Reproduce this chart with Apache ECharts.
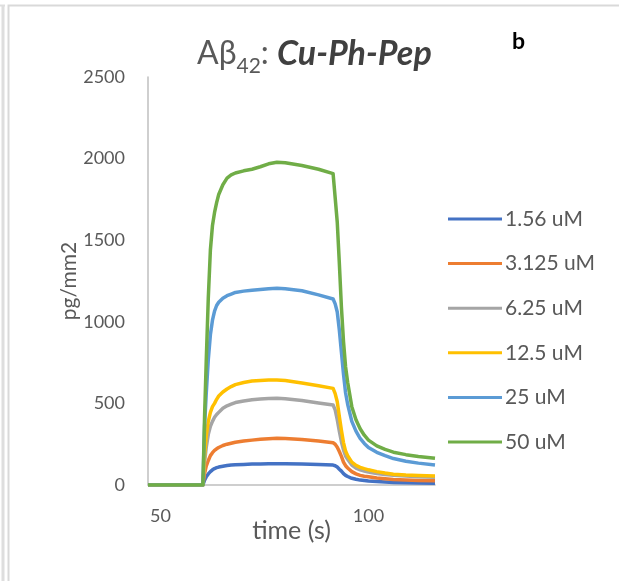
<!DOCTYPE html>
<html lang="en">

<head>
    <meta charset="UTF-8">
    <title>Aβ42: Cu-Ph-Pep</title>
    <script src="https://cdn.jsdelivr.net/npm/echarts@6/dist/echarts.min.js"></script>
    <style>
        html, body { margin: 0; padding: 0; background: #fff; }
        #chart { width: 619px; height: 581px; }
    </style>
</head>

<body>
    <div id="chart"></div>

    <script>
        // 时间点 (s)
        const times = [47, 60.2, 60.6, 61, 61.5, 62, 62.5, 63, 63.5, 64, 65, 66, 67, 68, 70, 72, 74, 76, 78, 80, 84, 88, 91.5,
            92, 92.5, 93, 93.5, 94, 94.5, 95, 96, 97, 98, 99, 100, 102, 104, 106, 109, 112, 116];

        const seriesNames = ['1.56 uM', '3.125 uM', '6.25 uM', '12.5 uM', '25 uM', '50 uM'];
        const seriesColors = ['#4472C4', '#ED7D31', '#A5A5A5', '#FFC000', '#5B9BD5', '#70AD47'];

        // pg/mm2
        const c156 = [0, 0, 30, 50, 68, 82, 93, 101, 106, 110, 115, 119, 122, 124, 126, 128, 129, 130, 130, 130, 128, 125, 122,
            118, 110, 97, 85, 70, 59, 52, 41, 35, 30, 27, 24, 21, 18, 16, 14, 12, 10];
        const c3125 = [0, 0, 70, 115, 150, 180, 198, 212, 222, 230, 242, 250, 256, 262, 269, 275, 280, 284, 286, 285, 279, 270, 259,
            250, 232, 205, 175, 140, 118, 104, 82, 68, 59, 54, 50, 43, 38, 34, 31, 28, 26];
        const c625 = [0, 0, 140, 230, 310, 360, 390, 415, 432, 445, 470, 485, 495, 505, 515, 522, 527, 530, 531, 529, 518, 503, 490,
            460, 400, 330, 265, 215, 178, 158, 122, 104, 93, 86, 80, 70, 65, 60, 55, 51, 47];
        const c125 = [0, 0, 180, 300, 390, 445, 480, 500, 525, 545, 570, 588, 603, 615, 628, 637, 641, 643, 643, 640, 625, 608, 592,
            560, 510, 420, 335, 260, 208, 180, 140, 120, 108, 100, 93, 82, 73, 66, 61, 58, 55];
        const c25 = [0, 0, 360, 560, 770, 920, 1010, 1065, 1100, 1120, 1145, 1160, 1170, 1180, 1188, 1194, 1198, 1203, 1205, 1203, 1190, 1165, 1140,
            1110, 1060, 950, 815, 680, 565, 495, 390, 330, 285, 255, 230, 200, 180, 162, 146, 134, 123];
        const c50 = [0, 0, 420, 760, 1150, 1440, 1590, 1670, 1730, 1780, 1840, 1880, 1900, 1912, 1925, 1935, 1950, 1968, 1978, 1975, 1958, 1935, 1908,
            1760, 1610, 1360, 1090, 880, 725, 630, 480, 400, 345, 305, 275, 240, 218, 201, 186, 175, 164];

        const seriesValues = [c156, c3125, c625, c125, c25, c50];

        const xTickLabels = [50, 100];
        const yTicks = [0, 500, 1000, 1500, 2000, 2500];

        const chart = echarts.init(document.getElementById('chart'), null, { renderer: 'canvas' });

        const font = 'Lato';
        const grey = '#595959';

        const option = {
            animation: false,
            backgroundColor: '#fff',
            textStyle: { fontFamily: font },
            title: {
                left: 192,
                top: 30,
                text: '{a|Aβ}{s|42}{a|: }{b|Cu-Ph-Pep}',
                textStyle: {
                    fontWeight: 'normal',
                    rich: {
                        a: { fontFamily: font, fontSize: 32, fontWeight: 'normal', color: grey, lineHeight: 38 },
                        s: { fontFamily: font, fontSize: 21, fontWeight: 'normal', color: grey, lineHeight: 14, padding: [24, 0, 0, 0] },
                        b: { fontFamily: font, fontSize: 34, color: '#404040', fontWeight: 'bold', fontStyle: 'italic', lineHeight: 38 }
                    }
                }
            },
            graphic: [
                // 外框
                { type: 'rect', shape: { x: 8.5, y: 5.5, width: 700, height: 700 }, style: { fill: 'none', stroke: '#d9d9d9', lineWidth: 2 }, silent: true },
                { type: 'line', shape: { x1: 3, y1: 5, x2: 3, y2: 581 }, style: { stroke: '#dedede', lineWidth: 3 }, silent: true },
                { type: 'line', shape: { x1: 0, y1: 5.5, x2: 5, y2: 5.5 }, style: { stroke: '#dedede', lineWidth: 2 }, silent: true },
                { type: 'text', left: 512, top: 30, style: { text: 'b', font: 'bold 23px Lato', fill: '#000' }, silent: true }
            ],
            legend: {
                orient: 'vertical',
                left: 443,
                top: 203.5,
                itemWidth: 54,
                itemHeight: 20,
                itemGap: 23.6,
                icon: 'path://M0,8.5 L54,8.5 L54,11.5 L0,11.5 Z',
                data: seriesNames,
                textStyle: { color: grey, fontSize: 21, fontFamily: font, lineHeight: 20, padding: [0, 0, 0, -2] }
            },
            grid: { left: 148, right: 184, top: 77, bottom: 96, containLabel: false },
            xAxis: {
                type: 'value',
                min: 47,
                max: 116,
                name: 'time (s)',
                nameLocation: 'middle',
                nameGap: 33,
                nameMoveOverlap: false,
                nameTextStyle: { color: grey, fontSize: 25, fontFamily: font },
                axisLine: { show: true, lineStyle: { color: '#bfbfbf', width: 1.5 } },
                axisTick: { show: false },
                splitLine: { show: false },
                axisLabel: {
                    color: grey,
                    fontSize: 18,
                    fontFamily: font,
                    margin: 22,
                    formatter: v => (xTickLabels.includes(v) ? String(v) : '')
                }
            },
            yAxis: {
                type: 'value',
                min: yTicks[0],
                max: yTicks[yTicks.length - 1],
                interval: 500,
                name: 'pg/mm2',
                nameLocation: 'middle',
                nameGap: 68,
                nameMoveOverlap: false,
                nameTextStyle: { color: grey, fontSize: 21, fontFamily: font },
                axisLine: { show: true, lineStyle: { color: '#bfbfbf', width: 1.5 } },
                axisTick: { show: false },
                splitLine: { show: false },
                axisLabel: { color: grey, fontSize: 18, fontFamily: font, margin: 23, formatter: v => String(v) }
            },
            series: seriesNames.map((name, i) => ({
                name: name,
                type: 'line',
                symbol: 'none',
                smooth: false,
                color: seriesColors[i],
                lineStyle: { width: 3.5, color: seriesColors[i], join: 'round' },
                data: times.map((t, k) => [t, seriesValues[i][k]])
            }))
        };

        chart.setOption(option);
    </script>
</body>

</html>
